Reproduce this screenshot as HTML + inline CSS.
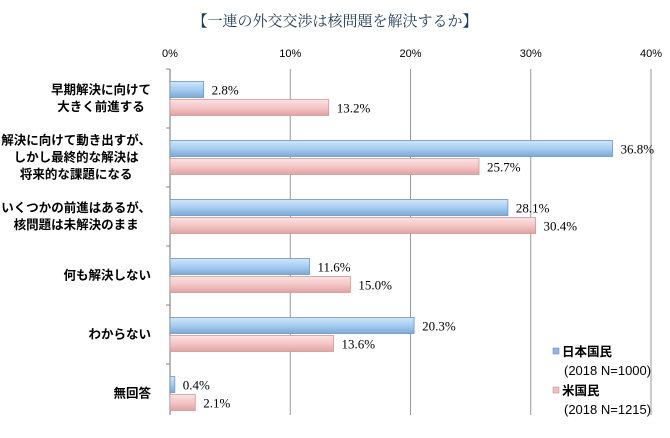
<!DOCTYPE html>
<html><head><meta charset="utf-8">
<style>
body{margin:0;background:#fff;}
svg{display:block;font-family:"Liberation Sans","Noto Sans CJK JP",sans-serif;}
.lbl{font-weight:bold;font-size:12.5px;fill:#000;}
.val{font-family:"Liberation Serif","Noto Serif CJK SC",serif;font-size:13px;fill:#000;}
</style></head>
<body>
<svg id="chart" width="670" height="438">
<defs>
<linearGradient id="gb" x1="0" y1="0" x2="0" y2="1"><stop offset="0" stop-color="#cfe6fb"/><stop offset="0.5" stop-color="#a7cdf0"/><stop offset="1" stop-color="#7ea9d6"/></linearGradient>
<linearGradient id="gp" x1="0" y1="0" x2="0" y2="1"><stop offset="0" stop-color="#fbe3e3"/><stop offset="0.5" stop-color="#f4c6c6"/><stop offset="1" stop-color="#e0a3a3"/></linearGradient>
</defs>
<text x="335" y="26" text-anchor="middle" font-size="15" font-family="Liberation Serif,'Noto Serif CJK SC',serif" fill="#1f3b55">【一連の外交交渉は核問題を解決するか】</text>
<g id="grid"></g><g id="bars"></g><g id="labels"></g>
<g>
<rect x="553" y="348" width="6" height="6" fill="#8fb8e2" stroke="#5a86b5" stroke-width="0.5"/>
<text x="562" y="356" class="lbl">日本国民</text>
<text x="564" y="375" font-size="13">(2018 N=1000)</text>
<rect x="553" y="387" width="6" height="6" fill="#efc0c0" stroke="#b88" stroke-width="0.5"/>
<text x="562" y="395" class="lbl">米国民</text>
<text x="564" y="414" font-size="13">(2018 N=1215)</text>
</g>
</svg>
<script>
const categories=[["早期解決に向けて","大きく前進する"],["解決に向けて動き出すが、","しかし最終的な解決は","将来的な課題になる"],["いくつかの前進はあるが、","核問題は未解決のまま"],["何も解決しない"],["わからない"],["無回答"]];
const japan=[2.8,36.8,28.1,11.6,20.3,0.4];
const us=[13.2,25.7,30.4,15.0,13.6,2.1];
const ticks=[0,10,20,30,40];
const NS="http://www.w3.org/2000/svg";
const x0=170,x1=651,yTop=69,band=59;
const xs=v=>x0+(x1-x0)*v/40;
function mk(t,a,p){const e=document.createElementNS(NS,t);for(const k in a)e.setAttribute(k,a[k]);p.appendChild(e);return e;}
const grid=document.getElementById('grid'),bars=document.getElementById('bars'),labels=document.getElementById('labels');
ticks.forEach(t=>{
 const l=mk('line',{x1:xs(t),x2:xs(t),y1:yTop,y2:yTop+band*6-8,stroke:t===0?'#888':'#999','stroke-width':t===0?1.2:1},grid);
 
 
 const tx=mk('text',{x:xs(t),y:57,'text-anchor':'middle','font-size':11},grid);
 tx.textContent=t+'%';
 
 
});
categories.forEach((c,i)=>{
 const cy=yTop+band*i+band/2;
 const tk=mk('line',{x1:x0-4,x2:x0,y1:yTop+band*i,y2:yTop+band*i,stroke:'#888'},grid);
 
 
 [[japan[i],'url(#gb)','#6f95bd',-17,'japan'],[us[i],'url(#gp)','#c99',1,'us']].forEach(([v,f,s,dy,n])=>{
  const r=mk('rect',{x:x0,y:cy+dy,width:Math.max(xs(v)-x0,1),height:16,fill:f,stroke:s,'stroke-width':0.8},bars);
  
  
  const t=mk('text',{x:xs(v)+8,y:cy+dy+13,class:'val'},labels);
  t.textContent=v.toFixed(1)+'%';
  
  
 });
 const n=c.length,lh=17;
 const els=c.map((line,j)=>{
  const t=mk('text',{x:0,y:cy-(n-1)*lh/2+j*lh+4,'text-anchor':'middle',class:'lbl'},labels);
  t.textContent=line;
  
  
  return t;
 });
 const w=Math.max(...els.map(e=>e.getComputedTextLength()));
 els.forEach(e=>e.setAttribute('x',151-w/2));
});
</script>
</body></html>
